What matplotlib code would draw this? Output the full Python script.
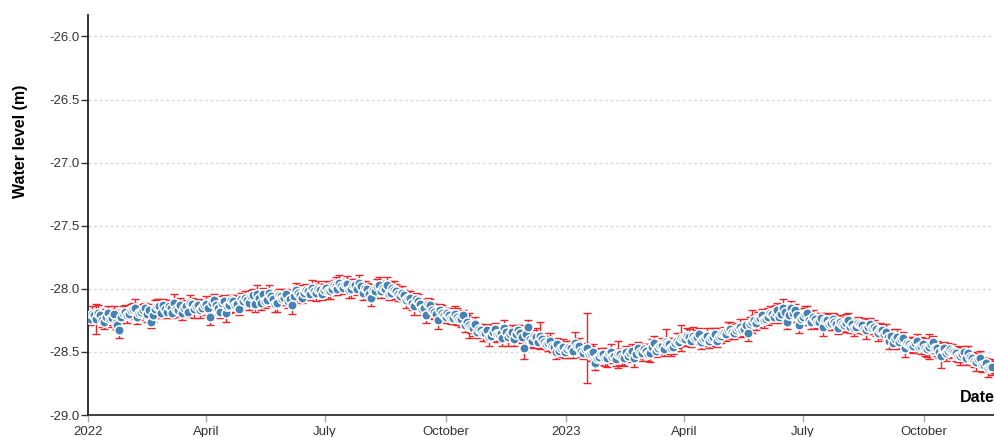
import numpy as np
import pandas as pd
import matplotlib
matplotlib.use("Agg")
import matplotlib.pyplot as plt

# water level readings, one every 3 days starting 2022-01-01
start_date = "2022-01-01"
step_days = 3
level = [
    -28.22, -28.20, -28.24, -28.21, -28.26, -28.19, -28.23, -28.27, -28.33, -28.19,
    -28.21, -28.17, -28.15, -28.19, -28.17, -28.20, -28.26, -28.16, -28.14, -28.13,
    -28.18, -28.15, -28.11, -28.17, -28.19, -28.14, -28.11, -28.16, -28.13, -28.15,
    -28.12, -28.22, -28.09, -28.15, -28.11, -28.19, -28.13, -28.10, -28.12, -28.08,
    -28.07, -28.11, -28.05, -28.04, -28.11, -28.10, -28.03, -28.08, -28.11, -28.06,
    -28.07, -28.10, -28.13, -28.01, -28.05, -28.03, -28.02, -27.99, -28.03, -28.01,
    -28.01, -28.02, -28.00, -27.98, -27.95, -27.99, -27.96, -28.00, -27.97, -27.95,
    -28.03, -28.00, -28.07, -28.02, -27.97, -27.99, -27.97, -28.03, -28.01, -28.04,
    -28.03, -28.09, -28.07, -28.14, -28.10, -28.16, -28.21, -28.13, -28.18, -28.25,
    -28.19, -28.22, -28.21, -28.23, -28.22, -28.24, -28.29, -28.29, -28.31, -28.34,
    -28.33, -28.35, -28.38, -28.34, -28.36, -28.35, -28.31, -28.38, -28.34, -28.36,
    -28.35, -28.47, -28.30, -28.41, -28.38, -28.37, -28.42, -28.43, -28.45, -28.50,
    -28.49, -28.46, -28.48, -28.47, -28.43, -28.45, -28.51, -28.47, -28.51, -28.59,
    -28.54, -28.52, -28.55, -28.50, -28.53, -28.52, -28.54, -28.50, -28.51, -28.55,
    -28.47, -28.51, -28.49, -28.51, -28.43, -28.47, -28.45, -28.42, -28.44, -28.46,
    -28.41, -28.39, -28.40, -28.38, -28.37, -28.38, -28.42, -28.39, -28.41, -28.38,
    -28.41, -28.37, -28.35, -28.33, -28.34, -28.33, -28.30, -28.32, -28.35, -28.26,
    -28.27, -28.23, -28.25, -28.22, -28.20, -28.19, -28.22, -28.15, -28.26, -28.15,
    -28.17, -28.29, -28.22, -28.19, -28.26, -28.24, -28.26, -28.30, -28.25, -28.27,
    -28.26, -28.31, -28.28, -28.27, -28.30, -28.31, -28.27, -28.29, -28.33, -28.28,
    -28.30, -28.35, -28.33, -28.34, -28.41, -28.43, -28.38, -28.40, -28.47, -28.44,
    -28.45, -28.41, -28.45, -28.47, -28.46, -28.42, -28.47, -28.53, -28.47, -28.49,
    -28.49, -28.51, -28.53, -28.50, -28.51, -28.55, -28.58, -28.55, -28.60, -28.63, -28.62,
]
level_err = [
    0.05, 0.06, 0.12, 0.05, 0.06, 0.05, 0.07, 0.05, 0.06, 0.05,
    0.06, 0.05, 0.07, 0.06, 0.05, 0.06, 0.05, 0.07, 0.06, 0.05,
    0.05, 0.06, 0.07, 0.05, 0.06, 0.05, 0.06, 0.07, 0.05, 0.06,
    0.06, 0.07, 0.05, 0.06, 0.05, 0.07, 0.06, 0.05, 0.06, 0.05,
    0.05, 0.06, 0.05, 0.07, 0.06, 0.05, 0.06, 0.05, 0.07, 0.06,
    0.06, 0.05, 0.07, 0.06, 0.05, 0.06, 0.05, 0.06, 0.07, 0.05,
    0.05, 0.06, 0.05, 0.07, 0.06, 0.05, 0.06, 0.07, 0.05, 0.06,
    0.06, 0.05, 0.07, 0.05, 0.06, 0.05, 0.06, 0.05, 0.07, 0.06,
    0.05, 0.06, 0.05, 0.07, 0.06, 0.05, 0.06, 0.05, 0.06, 0.07,
    0.06, 0.05, 0.06, 0.05, 0.07, 0.06, 0.05, 0.10, 0.06, 0.05,
    0.05, 0.06, 0.07, 0.05, 0.06, 0.05, 0.06, 0.07, 0.05, 0.06,
    0.06, 0.09, 0.05, 0.06, 0.07, 0.11, 0.05, 0.06, 0.05, 0.06,
    0.05, 0.06, 0.07, 0.05, 0.09, 0.06, 0.05, 0.28, 0.06, 0.05,
    0.06, 0.05, 0.07, 0.06, 0.05, 0.11, 0.06, 0.05, 0.06, 0.07,
    0.05, 0.06, 0.05, 0.07, 0.06, 0.05, 0.06, 0.10, 0.05, 0.06,
    0.06, 0.10, 0.05, 0.06, 0.07, 0.05, 0.06, 0.05, 0.06, 0.07,
    0.05, 0.06, 0.05, 0.07, 0.06, 0.05, 0.06, 0.05, 0.06, 0.09,
    0.06, 0.05, 0.06, 0.07, 0.05, 0.06, 0.05, 0.07, 0.06, 0.05,
    0.05, 0.06, 0.07, 0.05, 0.06, 0.05, 0.06, 0.07, 0.05, 0.06,
    0.06, 0.05, 0.06, 0.07, 0.05, 0.06, 0.05, 0.06, 0.07, 0.05,
    0.05, 0.06, 0.05, 0.06, 0.07, 0.05, 0.06, 0.05, 0.07, 0.06,
    0.06, 0.05, 0.07, 0.06, 0.10, 0.05, 0.06, 0.10, 0.05, 0.06,
    0.05, 0.06, 0.07, 0.05, 0.06, 0.05, 0.07, 0.06, 0.05, 0.07, 0.06,
]

# second set of readings, taken 36 h after each of the ones above
offset_hours = 36
level_b = [
    -28.24, -28.21, -28.19, -28.25, -28.22, -28.24, -28.20, -28.29, -28.22, -28.18,
    -28.20, -28.16, -28.22, -28.18, -28.15, -28.17, -28.21, -28.14, -28.19, -28.16,
    -28.14, -28.19, -28.16, -28.13, -28.15, -28.18, -28.12, -28.14, -28.17, -28.13,
    -28.15, -28.11, -28.13, -28.18, -28.10, -28.14, -28.09, -28.13, -28.16, -28.10,
    -28.09, -28.06, -28.12, -28.07, -28.04, -28.09, -28.06, -28.12, -28.05, -28.08,
    -28.04, -28.08, -28.06, -28.03, -28.07, -28.01, -28.04, -28.02, -28.00, -28.04,
    -27.99, -28.02, -27.97, -28.00, -27.98, -27.96, -28.01, -27.97, -28.00, -27.98,
    -27.99, -28.04, -28.01, -27.98, -28.02, -28.00, -28.04, -27.99, -28.02, -28.06,
    -28.05, -28.07, -28.11, -28.08, -28.12, -28.15, -28.12, -28.17, -28.20, -28.17,
    -28.21, -28.19, -28.23, -28.20, -28.24, -28.21, -28.26, -28.30, -28.28, -28.32,
    -28.35, -28.33, -28.37, -28.32, -28.36, -28.39, -28.34, -28.36, -28.40, -28.33,
    -28.38, -28.36, -28.40, -28.37, -28.42, -28.40, -28.44, -28.41, -28.46, -28.44,
    -28.47, -28.50, -28.46, -28.49, -28.45, -28.49, -28.48, -28.52, -28.50, -28.55,
    -28.52, -28.55, -28.51, -28.54, -28.56, -28.52, -28.55, -28.53, -28.49, -28.52,
    -28.50, -28.48, -28.52, -28.46, -28.49, -28.45, -28.48, -28.44, -28.47, -28.43,
    -28.42, -28.40, -28.37, -28.41, -28.39, -28.36, -28.40, -28.37, -28.39, -28.36,
    -28.38, -28.35, -28.36, -28.32, -28.35, -28.31, -28.33, -28.29, -28.28, -28.25,
    -28.24, -28.21, -28.24, -28.19, -28.22, -28.17, -28.20, -28.18, -28.21, -28.19,
    -28.21, -28.24, -28.20, -28.25, -28.22, -28.26, -28.23, -28.25, -28.28, -28.24,
    -28.28, -28.26, -28.29, -28.25, -28.28, -28.30, -28.28, -28.32, -28.30, -28.31,
    -28.32, -28.33, -28.36, -28.38, -28.37, -28.40, -28.42, -28.39, -28.43, -28.45,
    -28.43, -28.46, -28.44, -28.48, -28.44, -28.47, -28.50, -28.48, -28.51, -28.48,
    -28.50, -28.53, -28.52, -28.55, -28.54, -28.57, -28.56, -28.60, -28.59, -28.62,
]
level_b_err = [
    0.05, 0.04, 0.06, 0.05, 0.04, 0.05, 0.06, 0.04, 0.05, 0.05,
    0.04, 0.05, 0.06, 0.05, 0.04, 0.05, 0.05, 0.06, 0.04, 0.05,
    0.05, 0.04, 0.05, 0.06, 0.05, 0.04, 0.05, 0.05, 0.06, 0.04,
    0.06, 0.05, 0.04, 0.05, 0.05, 0.06, 0.04, 0.05, 0.05, 0.04,
    0.05, 0.05, 0.06, 0.04, 0.05, 0.05, 0.04, 0.06, 0.05, 0.05,
    0.04, 0.05, 0.05, 0.06, 0.04, 0.05, 0.05, 0.04, 0.06, 0.05,
    0.05, 0.06, 0.04, 0.05, 0.05, 0.04, 0.06, 0.05, 0.05, 0.04,
    0.05, 0.04, 0.05, 0.06, 0.05, 0.04, 0.05, 0.05, 0.06, 0.04,
    0.04, 0.05, 0.06, 0.05, 0.04, 0.05, 0.05, 0.06, 0.04, 0.05,
    0.05, 0.04, 0.05, 0.06, 0.05, 0.04, 0.05, 0.05, 0.06, 0.04,
    0.06, 0.05, 0.04, 0.05, 0.05, 0.06, 0.04, 0.05, 0.05, 0.04,
    0.05, 0.05, 0.06, 0.04, 0.05, 0.05, 0.04, 0.06, 0.05, 0.05,
    0.04, 0.05, 0.05, 0.06, 0.04, 0.05, 0.05, 0.04, 0.06, 0.05,
    0.05, 0.06, 0.04, 0.05, 0.05, 0.04, 0.06, 0.05, 0.05, 0.04,
    0.05, 0.04, 0.05, 0.06, 0.05, 0.04, 0.05, 0.05, 0.06, 0.04,
    0.04, 0.05, 0.06, 0.05, 0.04, 0.05, 0.05, 0.06, 0.04, 0.05,
    0.05, 0.04, 0.05, 0.06, 0.05, 0.04, 0.05, 0.05, 0.06, 0.04,
    0.06, 0.05, 0.04, 0.05, 0.05, 0.06, 0.04, 0.05, 0.05, 0.04,
    0.05, 0.05, 0.06, 0.04, 0.05, 0.05, 0.04, 0.06, 0.05, 0.05,
    0.04, 0.05, 0.05, 0.06, 0.04, 0.05, 0.05, 0.04, 0.06, 0.05,
    0.05, 0.06, 0.04, 0.05, 0.05, 0.04, 0.06, 0.05, 0.05, 0.04,
    0.05, 0.04, 0.05, 0.06, 0.05, 0.04, 0.05, 0.05, 0.06, 0.04,
    0.04, 0.05, 0.06, 0.05, 0.04, 0.05, 0.05, 0.06, 0.04, 0.05,
]

tick_dates = ["2022-01-01", "2022-04-01", "2022-07-01", "2022-10-01",
              "2023-01-01", "2023-04-01", "2023-07-01", "2023-10-01"]
tick_labels = ["2022", "April", "July", "October", "2023", "April", "July", "October"]
y_ticks = [-29.0, -28.5, -28.0, -27.5, -27.0, -26.5, -26.0]

dates = pd.date_range(start_date, periods=len(level), freq=f"{step_days}D")
dates_b = pd.date_range(start_date, periods=len(level_b), freq=f"{step_days}D") \
    + pd.Timedelta(hours=offset_hours)

df = pd.DataFrame({
    "date": list(dates) + list(dates_b),
    "level": level + level_b,
    "err": level_err + level_b_err,
}).sort_values("date")

plt.rcParams['font.family'] = ['Liberation Sans', 'DejaVu Sans']

fig = plt.figure(figsize=(9.95, 4.37), dpi=100)
ax = fig.add_axes([88 / 995, 1 - 415 / 437, 1 - 88 / 995, 400 / 437])

ax.errorbar(df["date"], df["level"], yerr=df["err"], fmt='none', ecolor='#e8262b',
            elinewidth=1, capsize=3, capthick=1, zorder=2)
ax.scatter(df["date"], df["level"], s=46, color='#4682b4', edgecolor='white',
           linewidth=1.1, zorder=3)

ax.set_ylim(-29.0, -25.83)
ax.set_xlim(pd.Timestamp("2022-01-01"), pd.Timestamp("2023-11-24 14:00"))

ax.set_yticks(y_ticks)
ax.set_yticklabels([f"{v:.1f}" for v in y_ticks])
ax.set_xticks([pd.Timestamp(d) for d in tick_dates])
ax.set_xticklabels(tick_labels)

ax.grid(axis='y', color='#d9d9d9', linestyle=(0, (2, 2)), linewidth=1)
ax.set_axisbelow(True)

for s in ['top', 'right']:
    ax.spines[s].set_visible(False)
ax.spines['left'].set_color('#222222')
ax.spines['left'].set_linewidth(1.3)
ax.spines['bottom'].set_color('#333333')
ax.spines['bottom'].set_linewidth(1.3)

ax.tick_params(axis='y', length=5, width=1, color='#333333', labelsize=9.5,
               labelcolor='#333333', pad=1)
ax.tick_params(axis='x', length=5, width=1, color='#aaaaaa', labelsize=9.5,
               labelcolor='#333333', pad=3)

ax.set_ylabel("Water level (m)", fontsize=11.5, fontweight='bold')
ax.yaxis.set_label_coords(-60 / 907, (415 - 141) / 400)
ax.text(1.0, (415 - 398) / 400, "Date", transform=ax.transAxes, ha='right',
        va='center', fontsize=11.5, fontweight='bold')

fig.savefig("out.png", dpi=100)
